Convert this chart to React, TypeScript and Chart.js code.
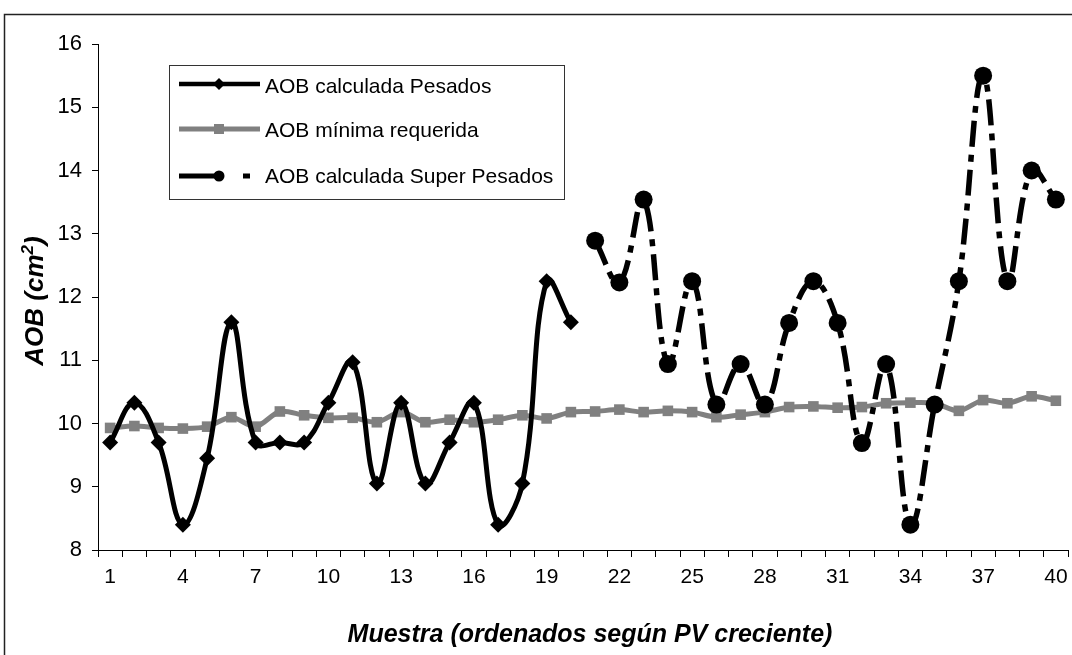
import React, { useEffect, useRef } from 'react';
import { Chart, registerables } from 'chart.js';

Chart.register(...registerables);

const categories = [
  '1', '2', '3', '4', '5', '6', '7', '8', '9', '10',
  '11', '12', '13', '14', '15', '16', '17', '18', '19', '20',
  '21', '22', '23', '24', '25', '26', '27', '28', '29', '30',
  '31', '32', '33', '34', '35', '36', '37', '38', '39', '40',
];

const shownTickLabels = ['1', '4', '7', '10', '13', '16', '19', '22', '25', '28', '31', '34', '37', '40'];

const pesados = [
  9.7, 10.33, 9.7, 8.4, 9.45, 11.6, 9.7, 9.7, 9.7, 10.33,
  10.97, 9.05, 10.33, 9.05, 9.7, 10.33, 8.4, 9.05, 12.25, 11.6,
  null, null, null, null, null, null, null, null, null, null,
  null, null, null, null, null, null, null, null, null, null,
];

const minimaRequerida = [
  9.93, 9.96, 9.93, 9.92, 9.95, 10.1, 9.95, 10.19, 10.13, 10.09,
  10.09, 10.02, 10.18, 10.02, 10.06, 10.02, 10.06, 10.13, 10.08, 10.18,
  10.19, 10.22, 10.18, 10.2, 10.18, 10.1, 10.14, 10.18, 10.26, 10.27,
  10.25, 10.26, 10.32, 10.33, 10.32, 10.2, 10.37, 10.32, 10.43, 10.36,
];

const superPesados = [
  null, null, null, null, null, null, null, null, null, null,
  null, null, null, null, null, null, null, null, null, null,
  12.89, 12.23, 13.54, 10.94, 12.25, 10.3, 10.94, 10.3, 11.59, 12.25,
  11.59, 9.69, 10.94, 8.4, 10.3, 12.25, 15.5, 12.25, 14.0, 13.54,
];

const seriesNames = ['AOB calculada Pesados', 'AOB mínima requerida', 'AOB calculada Super Pesados'];
const yTitle = ['AOB (cm', '2', ')'];
const xTitle = 'Muestra (ordenados según PV creciente)';

const FONT = '"Liberation Sans", Arial, Helvetica, sans-serif';
const DASH = [26, 8, 7, 8];

const decorPlugin = {
  id: 'decor',
  beforeDraw(chart: any) {
    const ctx = chart.ctx;
    ctx.save();
    ctx.fillStyle = '#ffffff';
    ctx.fillRect(0, 0, chart.width, chart.height);
    ctx.restore();
  },
  afterDraw(chart: any) {
    const ctx = chart.ctx;
    ctx.save();
    // outer frame
    ctx.strokeStyle = '#222';
    ctx.lineWidth = 1.5;
    ctx.beginPath();
    ctx.moveTo(4.5, 700);
    ctx.lineTo(4.5, 14.5);
    ctx.lineTo(chart.width + 10, 14.5);
    ctx.stroke();

    // y title
    ctx.save();
    ctx.translate(43, 301);
    ctx.rotate(-Math.PI / 2);
    ctx.fillStyle = '#000';
    ctx.textBaseline = 'alphabetic';
    const big = `italic bold 26px ${FONT}`;
    const small = `italic bold 17px ${FONT}`;
    ctx.font = big;
    const w1 = ctx.measureText(yTitle[0]).width;
    const w3 = ctx.measureText(yTitle[2]).width;
    ctx.font = small;
    const w2 = ctx.measureText(yTitle[1]).width;
    let x = -(w1 + w2 + w3) / 2;
    ctx.font = big;
    ctx.fillText(yTitle[0], x, 0);
    x += w1;
    ctx.font = small;
    ctx.fillText(yTitle[1], x, -10);
    x += w2;
    ctx.font = big;
    ctx.fillText(yTitle[2], x, 0);
    ctx.restore();

    // x title
    ctx.fillStyle = '#000';
    ctx.font = `italic bold 25px ${FONT}`;
    ctx.textAlign = 'center';
    ctx.textBaseline = 'alphabetic';
    ctx.fillText(xTitle, 590, 642);

    // legend box
    ctx.fillStyle = '#fff';
    ctx.fillRect(169.5, 65.5, 395, 134);
    ctx.strokeStyle = '#333';
    ctx.lineWidth = 1;
    ctx.strokeRect(169.5, 65.5, 395, 134);

    const rows = [84, 129, 176];
    const bases = [93, 137, 183];
    // row 1
    ctx.strokeStyle = '#000';
    ctx.lineWidth = 4.5;
    ctx.beginPath();
    ctx.moveTo(179, rows[0]);
    ctx.lineTo(260, rows[0]);
    ctx.stroke();
    ctx.fillStyle = '#000';
    ctx.beginPath();
    ctx.moveTo(219, rows[0] - 6);
    ctx.lineTo(225, rows[0]);
    ctx.lineTo(219, rows[0] + 6);
    ctx.lineTo(213, rows[0]);
    ctx.closePath();
    ctx.fill();
    // row 2
    ctx.strokeStyle = '#808080';
    ctx.lineWidth = 5;
    ctx.beginPath();
    ctx.moveTo(179, rows[1]);
    ctx.lineTo(260, rows[1]);
    ctx.stroke();
    ctx.fillStyle = '#808080';
    ctx.fillRect(214, rows[1] - 5, 10, 10);
    // row 3
    ctx.strokeStyle = '#000';
    ctx.lineWidth = 5;
    ctx.beginPath();
    ctx.moveTo(179, rows[2]);
    ctx.lineTo(216, rows[2]);
    ctx.moveTo(243, rows[2]);
    ctx.lineTo(250, rows[2]);
    ctx.stroke();
    ctx.fillStyle = '#000';
    ctx.beginPath();
    ctx.arc(219, rows[2], 5.5, 0, Math.PI * 2);
    ctx.fill();

    ctx.font = `21px ${FONT}`;
    ctx.textAlign = 'left';
    ctx.fillStyle = '#000';
    seriesNames.forEach((n, i) => ctx.fillText(n, 265, bases[i]));
    ctx.restore();
  },
};

export default function App() {
  const ref = useRef<HTMLCanvasElement | null>(null);
  useEffect(() => {
    if (!ref.current) return;
    const chart = new Chart(ref.current, {
      type: 'line',
      data: {
        labels: categories,
        datasets: [
          {
            label: seriesNames[1],
            data: minimaRequerida,
            borderColor: '#808080',
            backgroundColor: '#808080',
            borderWidth: 5,
            pointStyle: 'rect',
            pointRadius: 7.5,
            pointBorderWidth: 0,
            tension: 0.3,
            order: 3,
          },
          {
            label: seriesNames[0],
            data: pesados,
            borderColor: '#000',
            backgroundColor: '#000',
            borderWidth: 5,
            pointStyle: 'rectRot',
            pointRadius: 8,
            pointBorderWidth: 0,
            tension: 0.4,
            spanGaps: false,
            order: 1,
          },
          {
            label: seriesNames[2],
            data: superPesados,
            borderColor: '#000',
            backgroundColor: '#000',
            borderWidth: 5.5,
            borderDash: DASH,
            pointStyle: 'circle',
            pointRadius: 9,
            pointBorderWidth: 0,
            tension: 0.4,
            spanGaps: false,
            order: 2,
          },
        ] as any,
      },
      options: {
        animation: false,
        responsive: false,
        maintainAspectRatio: false,
        clip: false as any,
        layout: { padding: { top: 44, left: 0, right: 0, bottom: 0 } },
        plugins: {
          legend: { display: false },
          tooltip: { enabled: false },
        },
        scales: {
          x: {
            type: 'category',
            offset: true,
            grid: {
              offset: true,
              drawOnChartArea: false,
              drawTicks: true,
              tickLength: 7,
              color: '#000',
            },
            border: { display: true, color: '#000', width: 1 },
            ticks: {
              autoSkip: false,
              maxRotation: 0,
              minRotation: 0,
              padding: 8,
              color: '#000',
              font: { family: FONT, size: 21 },
              callback: function (this: any, value: any) {
                const lbl = this.getLabelForValue(value);
                return shownTickLabels.includes(lbl) ? lbl : '';
              },
            },
            afterFit: (scale: any) => {
              scale.height = 105;
            },
          },
          y: {
            min: 8,
            max: 16,
            grid: {
              drawOnChartArea: false,
              drawTicks: true,
              tickLength: 6,
              color: '#000',
            },
            border: { display: true, color: '#000', width: 1 },
            ticks: {
              stepSize: 1,
              padding: 10,
              color: '#000',
              font: { family: FONT, size: 22 },
            },
            afterFit: (scale: any) => {
              scale.width = 98;
            },
          },
        },
      },
      plugins: [decorPlugin],
    });
    return () => chart.destroy();
  }, []);

  return (
    <div style={{ position: 'fixed', left: 0, top: 0, width: 1072, height: 655, overflow: 'hidden', background: '#fff' }}>
      <canvas ref={ref} width={1077} height={655} style={{ display: 'block', width: 1077, height: 655 }} />
    </div>
  );
}
